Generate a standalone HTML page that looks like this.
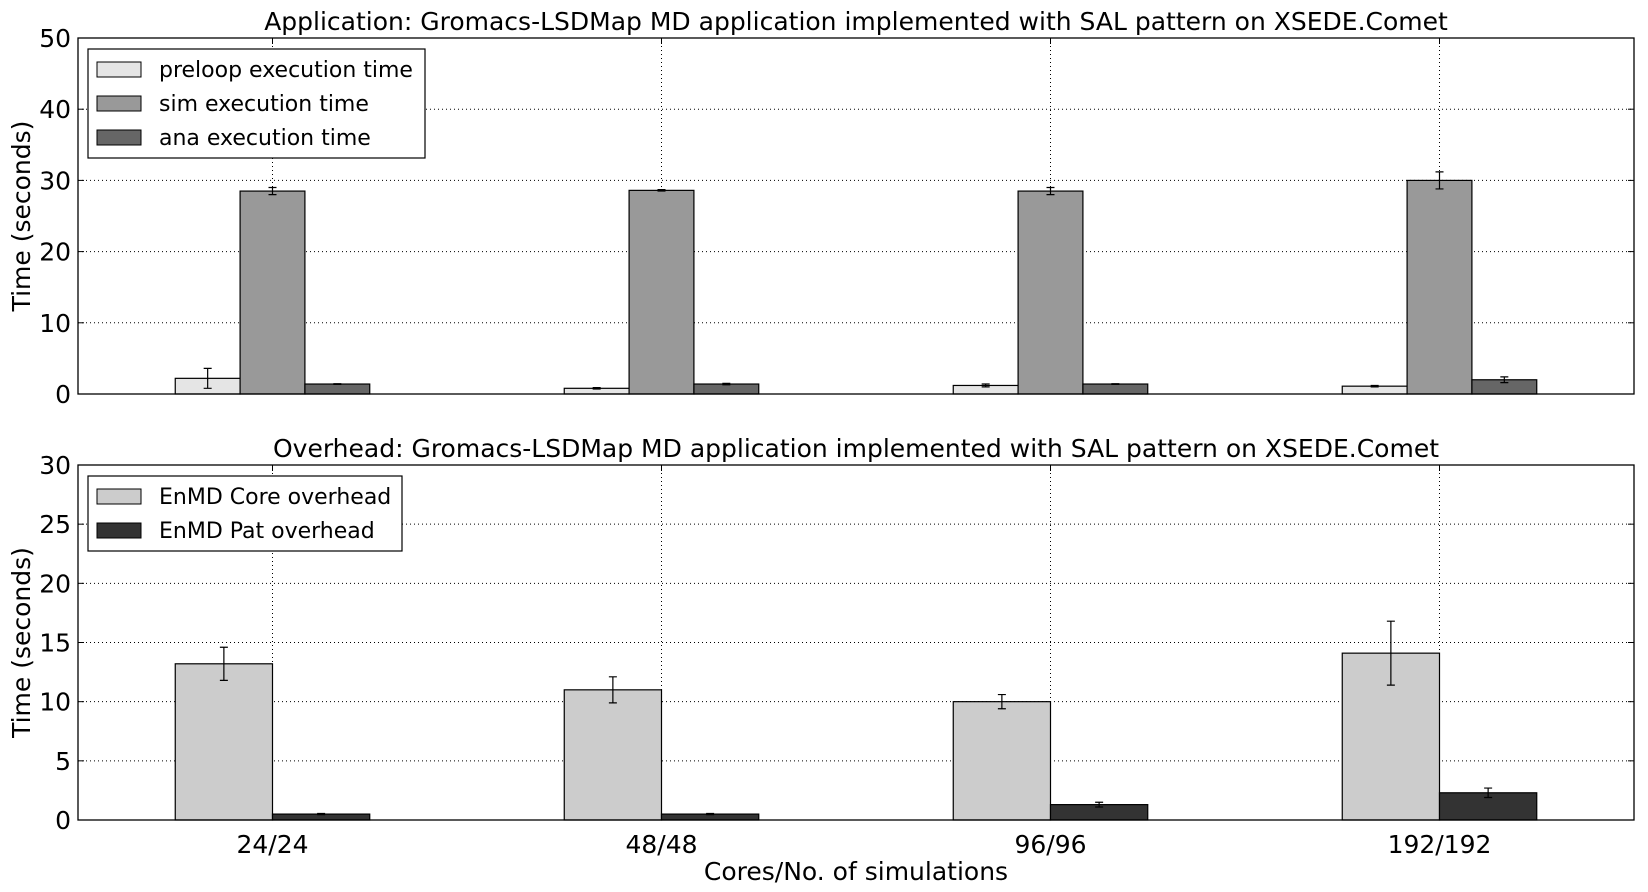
<!DOCTYPE html>
<html><head><meta charset="utf-8"><style>
body{margin:0;background:#fff;}
svg text{font-family:"DejaVu Sans","Liberation Sans",sans-serif;fill:#000;}
</style></head><body>
<svg id="chart" width="1648" height="887" xmlns="http://www.w3.org/2000/svg"></svg>
<script>
const categories=["24/24","48/48","96/96","192/192"];
const preloop=[2.2,0.8,1.2,1.1];
const preloopErr=[1.4,0.1,0.2,0.1];
const sim=[28.5,28.6,28.5,30.0];
const simErr=[0.5,0.1,0.5,1.2];
const ana=[1.4,1.4,1.4,2.0];
const anaErr=[0.05,0.1,0.05,0.4];
const core=[13.2,11.0,10.0,14.1];
const coreErr=[1.4,1.1,0.6,2.7];
const pat=[0.5,0.5,1.3,2.3];
const patErr=[0.05,0.05,0.2,0.4];
const topTicks=[0,10,20,30,40,50];
const botTicks=[0,5,10,15,20,25,30];

const svgRoot=document.getElementById('chart');
const SVGNS='http://www.w3.org/2000/svg';
function mk(tag,attrs,parent){
  const el=document.createElementNS(SVGNS,tag);
  Object.keys(attrs).forEach(function(k){el.setAttribute(k,String(attrs[k]));});
  (parent||svgRoot).appendChild(el);
  return el;
}
const PL=78,PR=1634;
const unitW=(PR-PL)/categories.length;
function xs(i){return PL+(i+0.5)*unitW;}

function drawPanel(name,pTop,pBot,ymax,ticks,series,title,legBox){
  function ys(v){return pBot-(v/ymax)*(pBot-pTop);}
  const grp=mk('g',{});
  
  
  ticks.forEach(function(tv){
    if(tv>0&&tv<ymax){
      const gl=mk('line',{x1:PL,x2:PR,y1:ys(tv),y2:ys(tv),stroke:'#000','stroke-width':1,'stroke-dasharray':'1,3'},grp);
      
      
    }
    const tl=mk('text',{x:PL-7,y:ys(tv)+9,'text-anchor':'end','font-size':25},grp);
    tl.textContent=String(tv);
    
    
    mk('line',{x1:PL,x2:PL+6,y1:ys(tv),y2:ys(tv),stroke:'#000'},grp);
    mk('line',{x1:PR,x2:PR-6,y1:ys(tv),y2:ys(tv),stroke:'#000'},grp);
  });
  categories.forEach(function(c,i){
    const vl=mk('line',{x1:xs(i),x2:xs(i),y1:pTop,y2:pBot,stroke:'#000','stroke-width':1,'stroke-dasharray':'1,3'},grp);
    
    
    mk('line',{x1:xs(i),x2:xs(i),y1:pBot,y2:pBot-6,stroke:'#000'},grp);
    mk('line',{x1:xs(i),x2:xs(i),y1:pTop,y2:pTop+6,stroke:'#000'},grp);
  });
  const bw=0.5*unitW/series.length;
  series.forEach(function(s,k){
    categories.forEach(function(c,i){
      const x0=xs(i)-0.25*unitW+k*bw;
      const bar=mk('rect',{x:x0,y:ys(s.vals[i]),width:bw,height:pBot-ys(s.vals[i]),fill:s.color,stroke:'#000','stroke-width':1.2},grp);
      
      
      const cx=x0+bw/2,ey1=ys(s.vals[i]+s.err[i]),ey2=ys(Math.max(0,s.vals[i]-s.err[i]));
      const eb=mk('path',{d:'M'+cx+','+ey1+'V'+ey2+'M'+(cx-4)+','+ey1+'H'+(cx+4)+'M'+(cx-4)+','+ey2+'H'+(cx+4),stroke:'#000','stroke-width':1.2,fill:'none'},grp);
      
      
    });
  });
  const frame=mk('rect',{x:PL,y:pTop,width:PR-PL,height:pBot-pTop,fill:'none',stroke:'#000','stroke-width':1.3},grp);
  
  
  const ttl=mk('text',{x:(PL+PR)/2,y:pTop-8,'text-anchor':'middle','font-size':25},grp);
  ttl.textContent=title;
  
  
  const lg=mk('g',{},grp);
  
  
  mk('rect',{x:legBox[0],y:legBox[1],width:legBox[2],height:legBox[3],fill:'#fff',stroke:'#000','stroke-width':1.2},lg);
  series.forEach(function(s,k){
    const cy=legBox[1]+20+k*34;
    const ent=mk('g',{},lg);
    
    
    mk('rect',{x:legBox[0]+9,y:cy-7,width:44,height:15,fill:s.color,stroke:'#000'},ent);
    const lt=mk('text',{x:legBox[0]+71,y:cy+8,'font-size':22},ent);
    lt.textContent=s.label;
  });
  const yl=mk('text',{transform:'translate(30,'+((pTop+pBot)/2)+') rotate(-90)','text-anchor':'middle','font-size':25},grp);
  yl.textContent='Time (seconds)';
  
  
}
try{
drawPanel('application-panel',38,394,50,topTicks,[
  {key:'preloop',label:'preloop execution time',vals:preloop,err:preloopErr,color:'#e5e5e5'},
  {key:'sim',label:'sim execution time',vals:sim,err:simErr,color:'#999999'},
  {key:'ana',label:'ana execution time',vals:ana,err:anaErr,color:'#666666'}],
  'Application: Gromacs-LSDMap MD application implemented with SAL pattern on XSEDE.Comet',[88,49,337,109]);
}catch(err){}
try{
drawPanel('overhead-panel',465,820,30,botTicks,[
  {key:'core',label:'EnMD Core overhead',vals:core,err:coreErr,color:'#cccccc'},
  {key:'pat',label:'EnMD Pat overhead',vals:pat,err:patErr,color:'#333333'}],
  'Overhead: Gromacs-LSDMap MD application implemented with SAL pattern on XSEDE.Comet',[88,476,314,75]);
}catch(err){}
categories.forEach(function(c,i){
  const xt=mk('text',{x:xs(i),y:853,'text-anchor':'middle','font-size':25});
  xt.textContent=c;
  
  
});
const xl=mk('text',{x:(PL+PR)/2,y:880,'text-anchor':'middle','font-size':25});
xl.textContent='Cores/No. of simulations';


</script>
</body></html>
